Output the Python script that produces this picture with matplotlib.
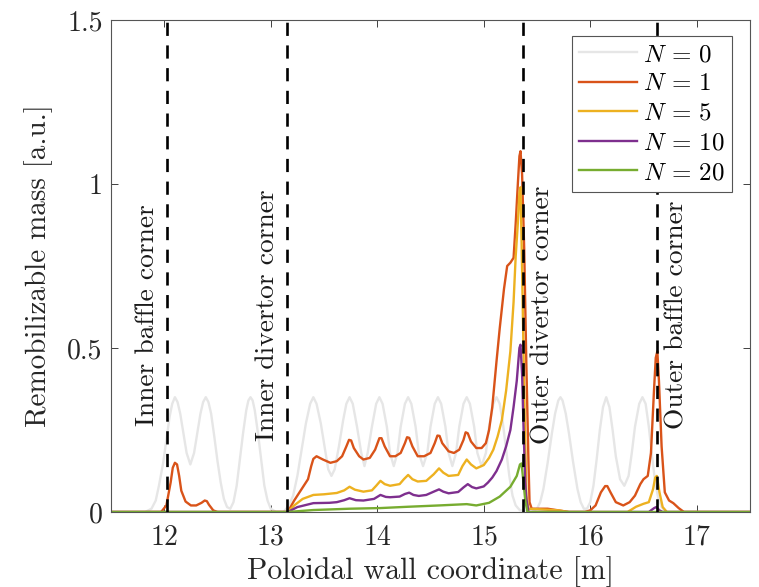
import matplotlib
matplotlib.use("Agg")
import matplotlib.pyplot as plt

plt.rcParams['font.family'] = ['cmr10']
plt.rcParams['mathtext.fontset'] = 'cm'
plt.rcParams['axes.formatter.use_mathtext'] = True

# ---- data -------------------------------------------------------------
x_n0 = [11.50, 11.82, 11.88, 11.92, 11.95, 11.99, 12.02, 12.05, 12.075, 12.10,
        12.125, 12.15, 12.18, 12.21, 12.245, 12.28, 12.31, 12.34, 12.365, 12.39,
        12.415, 12.44, 12.47, 12.50, 12.53, 12.56, 12.59, 12.62, 12.65, 12.68,
        12.71, 12.74, 12.77, 12.79, 12.81, 12.83, 12.85, 12.88, 12.91, 12.94,
        12.97, 13.00, 13.05, 13.12, 13.17, 13.21, 13.25, 13.29, 13.33, 13.37,
        13.40, 13.43, 13.47, 13.51, 13.54, 13.57, 13.60, 13.64, 13.68, 13.71,
        13.74, 13.77, 13.81, 13.85, 13.88, 13.91, 13.95, 13.99, 14.02, 14.05,
        14.09, 14.12, 14.155, 14.19, 14.22, 14.26, 14.29, 14.32, 14.36, 14.39,
        14.43, 14.47, 14.50, 14.54, 14.57, 14.60, 14.64, 14.67, 14.705, 14.74,
        14.77, 14.81, 14.84, 14.87, 14.91, 14.94, 14.98, 15.02, 15.05, 15.09,
        15.12, 15.15, 15.18, 15.21, 15.24, 15.27, 15.30, 15.34, 15.45, 15.50,
        15.53, 15.56, 15.60, 15.64, 15.67, 15.70, 15.72, 15.74, 15.77, 15.80,
        15.84, 15.88, 15.91, 15.94, 15.97, 16.00, 16.03, 16.06, 16.09, 16.12,
        16.15, 16.18, 16.21, 16.24, 16.28, 16.32, 16.36, 16.39, 16.42, 16.46,
        16.49, 16.52, 16.55, 16.58, 16.61, 16.64, 16.67, 16.71, 17.50]
y_n0 = [0.000, 0.000, 0.010, 0.035, 0.080, 0.150, 0.220, 0.290, 0.330, 0.350,
        0.335, 0.300, 0.240, 0.180, 0.145, 0.180, 0.240, 0.300, 0.335, 0.350,
        0.335, 0.300, 0.230, 0.155, 0.090, 0.040, 0.015, 0.010, 0.030, 0.080,
        0.160, 0.240, 0.310, 0.340, 0.350, 0.340, 0.310, 0.240, 0.160, 0.080,
        0.035, 0.010, 0.000, 0.000, 0.020, 0.050, 0.110, 0.190, 0.270, 0.330,
        0.350, 0.330, 0.270, 0.190, 0.130, 0.110, 0.130, 0.200, 0.280, 0.330,
        0.350, 0.330, 0.260, 0.180, 0.140, 0.180, 0.260, 0.330, 0.350, 0.330,
        0.260, 0.180, 0.140, 0.180, 0.260, 0.330, 0.350, 0.330, 0.260, 0.180,
        0.140, 0.180, 0.260, 0.330, 0.350, 0.330, 0.260, 0.180, 0.140, 0.180,
        0.260, 0.330, 0.350, 0.330, 0.260, 0.180, 0.140, 0.180, 0.260, 0.330,
        0.350, 0.330, 0.270, 0.190, 0.110, 0.050, 0.020, 0.005, 0.000, 0.010,
        0.030, 0.070, 0.150, 0.240, 0.300, 0.340, 0.350, 0.340, 0.300, 0.240,
        0.150, 0.070, 0.030, 0.010, 0.010, 0.030, 0.080, 0.160, 0.250, 0.320,
        0.350, 0.320, 0.250, 0.170, 0.100, 0.080, 0.110, 0.180, 0.260, 0.330,
        0.350, 0.330, 0.260, 0.170, 0.090, 0.040, 0.015, 0.000, 0.000]

x_n1 = [11.50, 11.97, 12.02, 12.06, 12.08, 12.10, 12.12, 12.14, 12.16, 12.20,
        12.25, 12.30, 12.35, 12.38, 12.40, 12.42, 12.46, 12.50, 13.15, 13.16,
        13.22, 13.27, 13.32, 13.35, 13.38, 13.40, 13.43, 13.49, 13.56, 13.62,
        13.67, 13.71, 13.735, 13.755, 13.78, 13.83, 13.87, 13.93, 13.98, 14.02,
        14.04, 14.07, 14.12, 14.17, 14.22, 14.26, 14.28, 14.30, 14.33, 14.38,
        14.44, 14.50, 14.54, 14.565, 14.585, 14.61, 14.67, 14.72, 14.77, 14.81,
        14.83, 14.85, 14.88, 14.93, 14.98, 15.02, 15.05, 15.08, 15.12, 15.15,
        15.19, 15.22, 15.25, 15.28, 15.30, 15.32, 15.335, 15.345, 15.36, 15.38,
        15.40, 15.42, 15.43, 15.45, 15.60, 15.70, 15.80, 15.95, 16.00, 16.05,
        16.10, 16.14, 16.16, 16.19, 16.24, 16.31, 16.37, 16.42, 16.47, 16.50,
        16.54, 16.57, 16.60, 16.615, 16.63, 16.645, 16.67, 16.70, 16.74, 16.78,
        16.83, 16.88, 17.50]
y_n1 = [0.000, 0.000, 0.020, 0.090, 0.135, 0.150, 0.145, 0.110, 0.065, 0.032,
        0.020, 0.020, 0.028, 0.035, 0.033, 0.022, 0.005, 0.000, 0.000, 0.000,
        0.035, 0.060, 0.085, 0.100, 0.140, 0.162, 0.170, 0.160, 0.150, 0.155,
        0.170, 0.200, 0.220, 0.218, 0.195, 0.170, 0.160, 0.165, 0.190, 0.225,
        0.225, 0.200, 0.170, 0.170, 0.180, 0.210, 0.228, 0.226, 0.200, 0.170,
        0.170, 0.180, 0.210, 0.233, 0.232, 0.210, 0.185, 0.180, 0.190, 0.220,
        0.243, 0.240, 0.215, 0.195, 0.195, 0.210, 0.250, 0.320, 0.460, 0.560,
        0.680, 0.750, 0.760, 0.775, 0.880, 1.000, 1.085, 1.100, 1.030, 0.800,
        0.450, 0.150, 0.030, 0.010, 0.010, 0.005, 0.000, 0.000, 0.005, 0.020,
        0.060, 0.079, 0.079, 0.060, 0.030, 0.020, 0.030, 0.050, 0.085, 0.100,
        0.110, 0.180, 0.380, 0.470, 0.490, 0.400, 0.200, 0.060, 0.035, 0.027,
        0.012, 0.000, 0.000]

x_n5 = [11.50, 13.15, 13.16, 13.22, 13.30, 13.40, 13.50, 13.62, 13.69, 13.74,
        13.79, 13.87, 13.95, 13.99, 14.03, 14.07, 14.12, 14.21, 14.25, 14.29,
        14.33, 14.38, 14.46, 14.53, 14.58, 14.62, 14.67, 14.76, 14.80, 14.84,
        14.88, 14.93, 15.00, 15.05, 15.09, 15.13, 15.17, 15.21, 15.25, 15.28,
        15.30, 15.32, 15.335, 15.345, 15.355, 15.37, 15.385, 15.40, 15.42, 15.70,
        15.80, 16.35, 16.43, 16.50, 16.55, 16.59, 16.61, 16.625, 16.65, 16.68,
        16.72, 17.50]
y_n5 = [0.000, 0.000, 0.000, 0.020, 0.040, 0.052, 0.054, 0.058, 0.066, 0.077,
        0.068, 0.062, 0.066, 0.080, 0.095, 0.085, 0.080, 0.085, 0.100, 0.113,
        0.100, 0.093, 0.095, 0.115, 0.133, 0.120, 0.110, 0.113, 0.140, 0.160,
        0.145, 0.133, 0.143, 0.165, 0.190, 0.230, 0.280, 0.370, 0.490, 0.640,
        0.780, 0.880, 0.975, 0.990, 0.830, 0.550, 0.280, 0.050, 0.010, 0.005,
        0.000, 0.000, 0.016, 0.025, 0.030, 0.070, 0.105, 0.110, 0.060, 0.015,
        0.000, 0.000]

x_n10 = [11.50, 13.15, 13.16, 13.25, 13.40, 13.55, 13.62, 13.69, 13.74, 13.80,
         13.87, 13.97, 14.03, 14.08, 14.12, 14.21, 14.26, 14.30, 14.34, 14.39,
         14.46, 14.53, 14.58, 14.62, 14.67, 14.76, 14.81, 14.85, 14.89, 14.93,
         15.00, 15.04, 15.08, 15.12, 15.17, 15.21, 15.25, 15.28, 15.31, 15.335,
         15.345, 15.36, 15.375, 15.39, 15.40, 15.42, 16.55, 16.60, 16.62, 16.65,
         16.68, 17.50]
y_n10 = [0.000, 0.000, 0.000, 0.015, 0.027, 0.028, 0.030, 0.036, 0.042, 0.036,
         0.035, 0.040, 0.052, 0.046, 0.045, 0.047, 0.055, 0.059, 0.052, 0.049,
         0.052, 0.062, 0.069, 0.062, 0.057, 0.061, 0.075, 0.085, 0.076, 0.072,
         0.078, 0.090, 0.105, 0.125, 0.160, 0.200, 0.250, 0.320, 0.400, 0.500,
         0.510, 0.420, 0.240, 0.090, 0.040, 0.000, 0.000, 0.012, 0.015, 0.005,
         0.000, 0.000]

x_n20 = [11.50, 13.15, 13.16, 13.40, 13.74, 14.03, 14.29, 14.58, 14.84, 14.93,
         15.05, 15.15, 15.25, 15.31, 15.34, 15.355, 15.37, 15.39, 15.41, 17.50]
y_n20 = [0.000, 0.000, 0.000, 0.006, 0.010, 0.012, 0.016, 0.020, 0.024, 0.020,
         0.028, 0.047, 0.077, 0.110, 0.145, 0.148, 0.100, 0.035, 0.000, 0.000]

series_labels = [r'$N\,=\,0$', r'$N\,=\,1$', r'$N\,=\,5$', r'$N\,=\,10$',
                 r'$N\,=\,20$']
series_colors = ['#E6E6E6', '#D95319', '#EDB120', '#7E2F8E', '#77AC30']

corner_x = [12.03, 13.15, 15.37, 16.63]
corner_labels = ['Inner baffle corner', 'Inner divertor corner',
                 'Outer divertor corner', 'Outer baffle corner']
corner_text_x = [11.84, 12.97, 15.55, 16.81]
corner_text_y = 0.6

xticks = [12, 13, 14, 15, 16, 17]
yticks = [0, 0.5, 1, 1.5]
ytick_labels = ['0', '0.5', '1', '1.5']

# ---- figure -----------------------------------------------------------
fig = plt.figure(figsize=(7.59, 5.87), dpi=100)
ax = fig.add_axes([111 / 759, 75 / 587, 639 / 759, 492 / 587])

xs = [x_n0, x_n1, x_n5, x_n10, x_n20]
ys = [y_n0, y_n1, y_n5, y_n10, y_n20]
for xv, yv, lab, col in zip(xs, ys, series_labels, series_colors):
    ax.plot(xv, yv, color=col, lw=1.7, label=lab, solid_joinstyle='round')

for xc in corner_x:
    ax.axvline(xc, color='black', lw=1.9, ls=(0, (5.0, 3.6)), zorder=5)

for tx, txt in zip(corner_text_x, corner_labels):
    ax.text(tx, corner_text_y, txt, rotation=90, ha='center', va='center',
            fontsize=19.8, color='#1a1a1a')

ax.set_xlim(11.5, 17.5)
ax.set_ylim(0, 1.5)
ax.set_xticks(xticks)
ax.set_yticks(yticks)
ax.set_yticklabels(ytick_labels)
ax.tick_params(direction='in', length=5, width=0.7, top=True, right=True,
               labelsize=20, colors='#404040', labelcolor='#262626')
ax.tick_params(axis='x', pad=9)
ax.tick_params(axis='y', pad=6)
for sp in ax.spines.values():
    sp.set_color('#555555')
    sp.set_linewidth(0.8)

ax.set_xlabel('Poloidal wall coordinate [m]', fontsize=21.5, color='#262626',
              labelpad=4)
ax.set_ylabel('Remobilizable mass [a.u.]', fontsize=21, color='#262626',
              labelpad=10)

leg = ax.legend(loc='upper right', fontsize=18, fancybox=False, framealpha=1,
                edgecolor='#555555', handlelength=2.3, handletextpad=0.25,
                labelspacing=0.28, borderpad=0.3, borderaxespad=0,
                bbox_to_anchor=(1 - 18 / 639, 1 - 16 / 492))
leg.get_frame().set_linewidth(0.8)
leg.set_zorder(10)

fig.savefig('out.png', dpi=100)
